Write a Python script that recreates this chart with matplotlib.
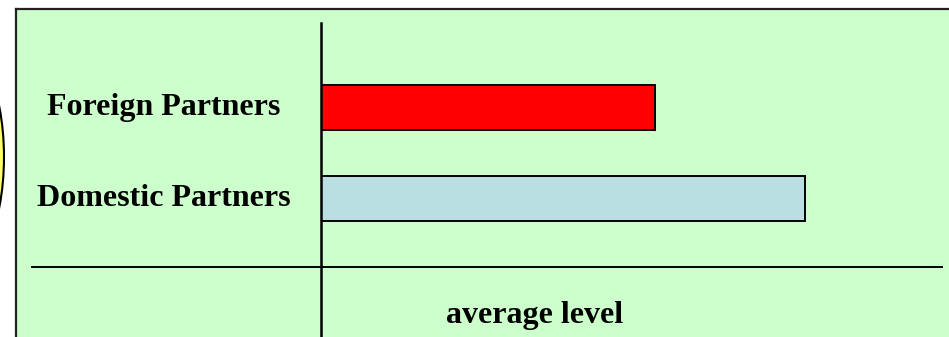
# -*- coding: utf-8 -*-
"""Average level: foreign vs domestic partners."""

import matplotlib

matplotlib.use("Agg")
import matplotlib.pyplot as plt
import matplotlib.transforms as mtransforms
from matplotlib.patches import Ellipse, Rectangle

categories = ["Foreign Partners", "Domestic Partners"]
levels = [6.9, 10.0]
bar_colors = ["#FF0000", "#B9DFE3"]
x_label = "average level"

W, H, DPI = 949, 337, 100
fig = plt.figure(figsize=(W / DPI, H / DPI), dpi=DPI)
plt.rcParams["font.family"] = ["Liberation Serif", "DejaVu Serif"]

# background layer in pixel coordinates
bg = fig.add_axes([0, 0, 1, 1])
bg.set_xlim(0, W)
bg.set_ylim(H, 0)
bg.axis("off")
bg.add_patch(Rectangle((16, 9), W, H, facecolor="#CCFFCC", edgecolor="none"))
bg.plot([16, W + 5], [9, 9], color="#222222", lw=1.6)
bg.plot([16, 16], [9, H + 5], color="#222222", lw=1.6)
bg.add_patch(Ellipse((-56, 157), 120, 260, facecolor="#FFFF66",
                     edgecolor="black", lw=1.5))
bg.plot([32, 942], [266.5, 266.5], color="black", lw=1.4)
bg.text(535, 323, x_label, ha="center", va="baseline", fontsize=23,
        fontweight="bold")


def px(x0, y0, x1, y1):
    return [x0 / W, 1 - y1 / H, (x1 - x0) / W, (y1 - y0) / H]


ax = fig.add_axes(px(320.5, 23, 942, 337))
ax.patch.set_alpha(0)
ypos = list(range(len(categories)))
ax.barh(ypos, levels, height=45 / 91, color=bar_colors, edgecolor="black",
        lw=1.4, align="center")
ax.set_xlim(0, 10.0 * 621.5 / 484.5)
ax.set_ylim(1 + (337 - 198.5) / 91, -(107.5 - 23) / 91)
for s in ["top", "right", "bottom"]:
    ax.spines[s].set_visible(False)
ax.spines["left"].set_linewidth(1.8)
ax.set_xticks([])
ax.set_yticks(ypos)
ax.set_yticklabels(categories, fontsize=23, fontweight="bold", ha="center")
ax.tick_params(axis="y", length=0, pad=(320.5 - 164) * 72 / DPI)
shift = mtransforms.ScaledTranslation(0, 4 / DPI, fig.dpi_scale_trans)
for lab in ax.get_yticklabels():
    lab.set_transform(lab.get_transform() + shift)

fig.savefig("out.png", dpi=DPI)
